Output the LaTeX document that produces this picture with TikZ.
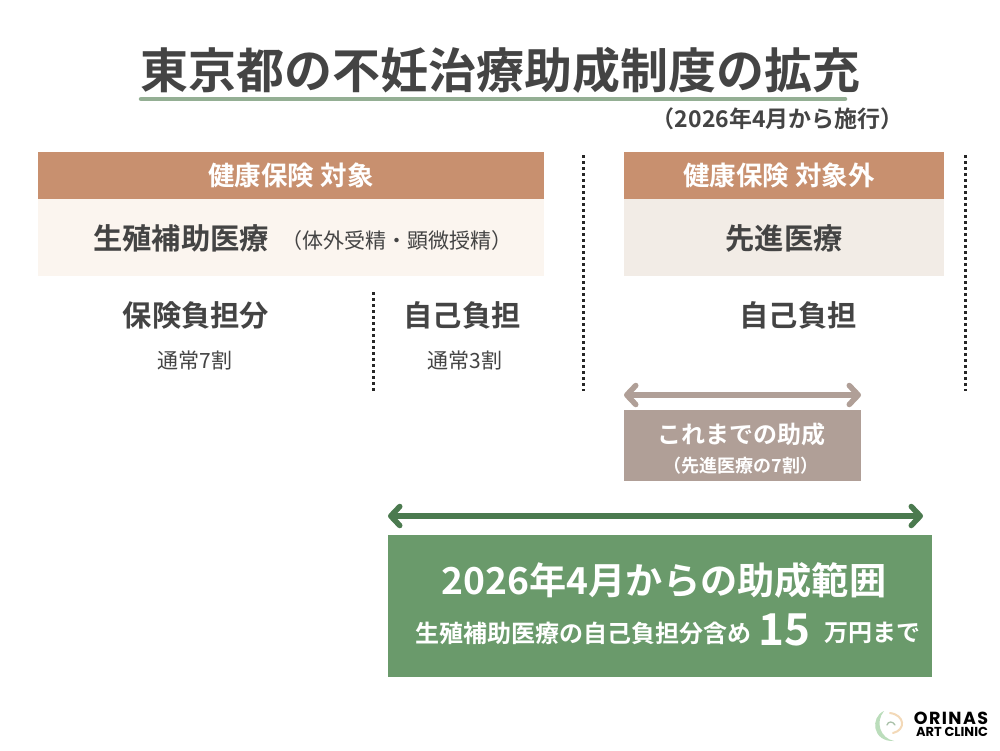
\documentclass[tikz,border=0pt]{standalone}
\usepackage{fontspec}
\setmainfont{Noto Sans CJK JP}[BoldFont={Noto Sans CJK JP Bold}]
\newfontfamily\logofont{Poppins}
\usetikzlibrary{arrows.meta}
\definecolor{ink}{HTML}{444444}
\definecolor{head}{HTML}{C8906F}
\definecolor{paleA}{HTML}{FBF5EF}
\definecolor{paleB}{HTML}{F2ECE6}
\definecolor{taupe}{HTML}{B09F97}
\definecolor{leaf}{HTML}{6A9A6B}
\definecolor{forest}{HTML}{4B7A4F}
\definecolor{sage}{HTML}{94AF94}
\definecolor{mint}{HTML}{BBDDBB}
\definecolor{peach}{HTML}{F3D9B8}
\newcommand{\fs}[1]{\fontsize{#1}{#1}\selectfont}
\tikzset{
 txt/.style={inner sep=0pt,text=ink,font=\bfseries\fs{#1}},
 thin txt/.style={inner sep=0pt,text=ink,font=\fs{#1}},
 wtxt/.style={inner sep=0pt,text=white,font=\bfseries\fs{#1}},
 dots/.style={line width=3pt,dash pattern=on 3pt off 3pt,black!85},
 span/.style={line width=5.5pt,{Straight Barb[round,length=9pt,width=19pt,line width=5.5pt]}-{Straight Barb[round,length=9pt,width=19pt,line width=5.5pt]}},
}
\begin{document}
\begin{tikzpicture}[x=1pt,y=-1pt]
\useasboundingbox (0,0) rectangle (1000,750);
\fill[white] (0,0) rectangle (1000,750);
% title
\node[txt=48] (title) at (500,70) {東京都の不妊治療助成制度の拡充};
\coordinate (ulL) at (141,99); \coordinate (ulR) at (845,99);
\draw[sage,line width=4.5pt,line cap=round] (ulL) -- (ulR);
\node[txt=23,anchor=east] (sub) at (904,119) {（2026年4月から施行）};
% boxes
\fill[head] (38,152) rectangle (544,199);
\fill[paleA] (38,199) rectangle (544,276);
\fill[head] (624,152) rectangle (944,199);
\fill[paleB] (624,199) rectangle (944,276);
\fill[taupe] (624,410) rectangle (861,481);
\fill[leaf] (388,535) rectangle (932,677);
% texts
\node[wtxt=26.5] (h1) at (291,175) {健康保険 対象};
\node[wtxt=26.5] (h2) at (779,175) {健康保険 対象外};
\node[txt=29.3,anchor=west] (b1) at (93,238) {生殖補助医療};
\node[thin txt=21,anchor=west] (b1s) at (281,241) {（体外受精・顕微授精）};
\node[txt=29.3] (b2) at (784,238) {先進医療};
\node[txt=29.3] (c1) at (196,315) {保険負担分};
\node[txt=29.3] (c2) at (462,315) {自己負担};
\node[txt=29.3] (c3) at (798,315) {自己負担};
\node[thin txt=21] (d1) at (195,361) {通常7割};
\node[thin txt=21] (d2) at (465,361) {通常3割};
\node[wtxt=24] (e1) at (741,434) {これまでの助成};
\node[wtxt=18] (e2) at (741,466) {（先進医療の7割）};
\node[wtxt=37.2] (f1) at (664,580) {2026年4月からの助成範囲};
\node[wtxt=24,anchor=west] (f2) at (415,633) {生殖補助医療の自己負担分含め};
\node[wtxt=44] (f3) at (784,630) {15};
\node[wtxt=24,anchor=west] (f4) at (824,633) {万円まで};
% dotted rules
\coordinate (v1a) at (373,292); \coordinate (v1b) at (373,391);
\coordinate (v2a) at (583,155); \coordinate (v2b) at (583,391);
\coordinate (v3a) at (965,155); \coordinate (v3b) at (965,391);
\draw[dots] (v1a) -- (v1b);
\draw[dots] (v2a) -- (v2b);
\draw[dots] (v3a) -- (v3b);
% span arrows
\coordinate (a1) at (624,395); \coordinate (a2) at (861,395);
\coordinate (a3) at (388,516); \coordinate (a4) at (923,516);
\draw[span,taupe] (a1) -- (a2);
\draw[span,forest] (a3) -- (a4);
% logo
\fill[mint] (884,711) .. controls (870,717) and (872,742) .. (894,741)
  .. controls (880,738) and (875,722) .. (884,711) -- cycle;
\draw[peach,line width=2pt,line cap=round] (890,713) .. controls (905,715) and (906,730) .. (893,733);
\draw[mint!70!gray,line width=1.3pt,line cap=round] (887,725) .. controls (888,721) and (893,721) .. (895,725);
\node[inner sep=0pt,text=black,font=\logofont\bfseries\fs{17.5}\addfontfeature{LetterSpace=8}] (lg1) at (951,718) {ORINAS};
\node[inner sep=0pt,text=black,font=\logofont\bfseries\fs{13}] (lg2) at (952,732) {ART CLINIC};
\end{tikzpicture}
\end{document}
